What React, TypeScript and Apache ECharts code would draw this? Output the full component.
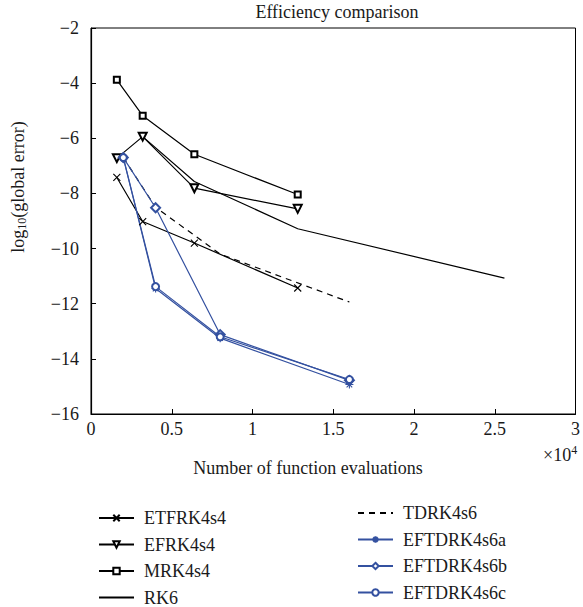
import React, { useEffect, useRef } from "react";
import * as echarts from "echarts";

const xTicks = [0, 5000, 10000, 15000, 20000, 25000, 30000];
const yTicks = [-16, -14, -12, -10, -8, -6, -4, -2];

const xEtf = [1600, 3200, 6400, 12800];
const yEtf = [-7.42, -9.02, -9.8, -11.43];
const yEfrk = [-6.72, -5.94, -7.81, -8.56];
const yMrk = [-3.88, -5.18, -6.58, -8.04];
const xRk6 = [3200, 6400, 12800, 25600];
const yRk6 = [-5.94, -7.57, -9.28, -11.07];
const xTd = [2000, 4000, 8000, 16000];
const yTd = [-6.7, -8.5, -10.2, -11.94];
const yEa = [-6.7, -11.45, -13.25, -14.93];
const yEb = [-6.7, -8.52, -13.12, -14.78];
const yEc = [-6.7, -11.38, -13.2, -14.75];

const FONT = "Liberation Serif";
const BLUE = "#3451a0";
const INK = "#1a1a1a";

const zip = (xs: number[], ys: number[]) => xs.map((x, i) => [x, ys[i]]);
const fmtMinus = (v: number) => (v < 0 ? "\u2212" + Math.abs(v) : String(v));

const CROSS = "path://M0,0L10,10M10,0L0,10";
const ASTER = "path://M5,0L5,10M0,5L10,5M1.5,1.5L8.5,8.5M8.5,1.5L1.5,8.5";

const HIDDEN = { color: "rgba(0,0,0,0)", borderColor: "rgba(0,0,0,0)" };

export default function App() {
  const ref = useRef<HTMLDivElement>(null);
  useEffect(() => {
    if (!ref.current) return;
    const chart = echarts.init(ref.current, undefined, { renderer: "svg" });
    const emptySeries = (name: string, data: number[][], color: string, symbol: string, size: number, extra: any = {}) => ({
      name,
      type: "line",
      data,
      symbol,
      symbolSize: size,
      lineStyle: { color, width: 1.2 },
      itemStyle: { color, borderWidth: 1 },
      ...extra,
    });
    const pathSeries = (name: string, data: number[][], color: string, symbol: string, size: number) => ({
      name,
      type: "line",
      data,
      symbol,
      symbolSize: size,
      lineStyle: { color, width: 1.2 },
      itemStyle: { color, borderColor: color, borderWidth: 1.1 },
    });
    const legendText = { fontFamily: FONT, fontSize: 18, color: INK, padding: [0, 0, 0, 5] };
    chart.setOption({
      animation: false,
      title: {
        text: "Efficiency comparison",
        left: 332,
        textAlign: "center",
        top: -2,
        textStyle: { fontFamily: FONT, fontSize: 18, fontWeight: "normal", color: INK },
      },
      grid: { left: 91, right: 5, top: 28, bottom: 193, show: true, borderColor: "#000", borderWidth: 1 },
      xAxis: {
        type: "value",
        min: xTicks[0],
        max: xTicks[xTicks.length - 1],
        interval: xTicks[1] - xTicks[0],
        axisLine: { lineStyle: { color: "#000", width: 1.2 } },
        axisTick: { inside: true, length: 5, lineStyle: { color: "#000" } },
        axisLabel: { fontFamily: FONT, fontSize: 18, color: INK, margin: 6, formatter: (v: number) => String(v / 10000) },
        splitLine: { show: false },
      },
      yAxis: {
        type: "value",
        min: yTicks[0],
        max: yTicks[yTicks.length - 1],
        interval: 2,
        axisLine: { lineStyle: { color: "#000", width: 1.2 } },
        axisTick: { inside: true, length: 5, lineStyle: { color: "#000" } },
        axisLabel: { fontFamily: FONT, fontSize: 18, color: INK, margin: 12, formatter: fmtMinus },
        splitLine: { show: false },
      },
      legend: [
        {
          orient: "vertical",
          left: 93,
          top: 504,
          height: 110,
          itemWidth: 35,
          itemHeight: 8,
          itemGap: 8.5,
          textStyle: legendText,
          data: ["ETFRK4s4", "EFRK4s4", "MRK4s4", { name: "RK6", itemStyle: HIDDEN }],
        },
        {
          orient: "vertical",
          left: 352,
          top: 499,
          height: 110,
          itemWidth: 35,
          itemHeight: 8,
          itemGap: 8.5,
          textStyle: legendText,
          data: [{ name: "TDRK4s6", itemStyle: HIDDEN }, "EFTDRK4s6a", "EFTDRK4s6b", "EFTDRK4s6c"],
        },
      ],
      graphic: [
        {
          type: "text",
          x: 18,
          y: 187,
          rotation: Math.PI / 2,
          style: {
            text: "{n|log}{s|10}{n|(global error)}",
            align: "center",
            verticalAlign: "middle",
            rich: {
              n: { fontFamily: FONT, fontSize: 18, fill: INK },
              s: { fontFamily: FONT, fontSize: 12, fill: INK, verticalAlign: "bottom", padding: [7, 0, 0, 0] },
            },
          },
        },
        {
          type: "text",
          x: 308,
          y: 468,
          style: {
            text: "Number of function evaluations",
            align: "center",
            verticalAlign: "middle",
            font: "18px 'Liberation Serif'",
            fill: INK,
          },
        },
        {
          type: "text",
          left: 543,
          top: 444,
          style: {
            text: "{a|\u00d710}{b|4}",
            rich: {
              a: { fontFamily: FONT, fontSize: 18, fill: INK },
              b: { fontFamily: FONT, fontSize: 12, fill: INK, verticalAlign: "top", padding: [0, 0, 9, 0] },
            },
          },
        },
      ],
      series: [
        pathSeries("ETFRK4s4", zip(xEtf, yEtf), "#000", CROSS, 7),
        emptySeries("EFRK4s4", zip(xEtf, yEfrk), "#000", "emptyTriangle", 8, { symbolRotate: 180 }),
        emptySeries("MRK4s4", zip(xEtf, yMrk), "#000", "emptyRect", 6),
        {
          name: "RK6",
          type: "line",
          data: zip(xRk6, yRk6),
          symbol: "none",
          lineStyle: { color: "#000", width: 1.2 },
          itemStyle: { color: "#000" },
        },
        {
          name: "TDRK4s6",
          type: "line",
          data: zip(xTd, yTd),
          symbol: "none",
          lineStyle: { color: "#000", width: 1.2, type: [6, 5] },
          itemStyle: { color: "#000" },
        },
        pathSeries("EFTDRK4s6a", zip(xTd, yEa), BLUE, ASTER, 8),
        emptySeries("EFTDRK4s6b", zip(xTd, yEb), BLUE, "emptyDiamond", 9),
        emptySeries("EFTDRK4s6c", zip(xTd, yEc), BLUE, "emptyCircle", 7),
      ],
    });
    return () => chart.dispose();
  }, []);
  return <div ref={ref} style={{ position: "absolute", left: 0, top: 0, width: 583, height: 607 }} />;
}
